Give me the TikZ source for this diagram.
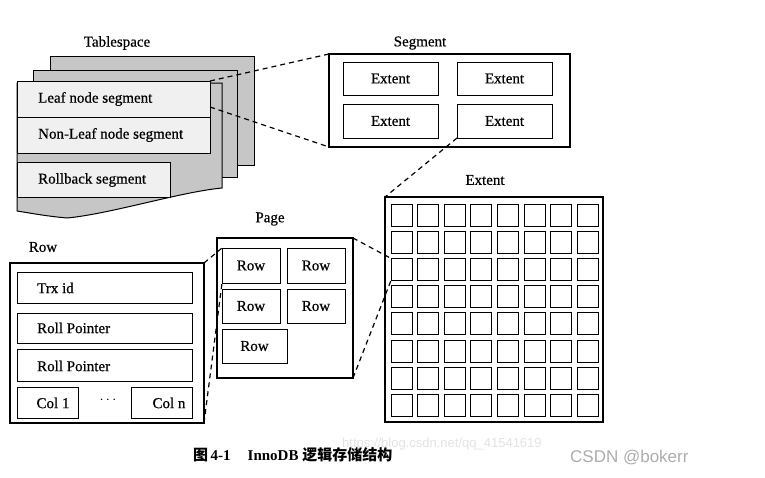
\documentclass[tikz,border=0pt]{standalone}
\usepackage{fontspec}
\setmainfont{Liberation Serif}
\newfontfamily\diag[FakeBold=0.6]{Liberation Serif}
\newfontfamily\cjk{Noto Sans CJK SC}
\newfontfamily\wmsans{Liberation Sans}
\begin{document}
\begin{tikzpicture}[x=1pt,y=-1pt,
  lbl/.style={font=\diag\fontsize{15}{18}\selectfont, inner sep=0pt},
  outerbox/.style={draw, line width=1.5pt, fill=white, inner sep=0pt, outer sep=0pt, anchor=north west},
  innerbox/.style={draw, line width=0.9pt, fill=white, inner sep=0pt, outer sep=0pt, anchor=north west, font=\diag\fontsize{15}{18}\selectfont},
  sheet/.style={draw, line width=1pt, fill=gray!45},
  segbox/.style={draw, line width=1pt, fill=gray!12, inner sep=0pt, outer sep=0pt, anchor=north west},
  dashline/.style={line width=1.2pt, dash pattern=on 5pt off 4pt},
  cellbox/.style={draw, line width=0.9pt, inner sep=0pt, outer sep=0pt, anchor=north west, minimum width=21pt, minimum height=22pt}
]
\useasboundingbox (0,0) rectangle (765,477);

% ---------- Tablespace ----------
\node[lbl] (tslabel) at (117,43) {Tablespace};
\node[sheet, inner sep=0pt, outer sep=0pt, anchor=north west, minimum width=204pt, minimum height=109pt] (ts3) at (50,56) {};
\node[sheet, inner sep=0pt, outer sep=0pt, anchor=north west, minimum width=204pt, minimum height=107pt] (ts2) at (33,70) {};
\draw[sheet] (17,83) -- (222,83) -- (222,188)
  .. controls (180,192) and (110,214) .. (67,218)
  .. controls (45,216) and (30,213) .. (17,211) -- cycle;
\node[segbox, minimum width=193pt, minimum height=36pt] (leaf) at (17,81) {};
\node[lbl, anchor=west] at (38,99) {Leaf node segment};
\node[segbox, minimum width=193pt, minimum height=36pt] (nonleaf) at (17,117) {};
\node[lbl, anchor=west] at (38,135) {Non-Leaf node segment};
\node[segbox, minimum width=153pt, minimum height=35pt] (rollback) at (17,162) {};
\node[lbl, anchor=west] at (38,180) {Rollback segment};
\coordinate (leafmid) at (210,107);

% ---------- Segment ----------
\node[lbl] (seglabel) at (420,43) {Segment};
\node[outerbox, minimum width=241pt, minimum height=93pt] (seg) at (329,54) {};
\node[innerbox, minimum width=95pt, minimum height=33pt] (e1) at (343,62) {Extent};
\node[innerbox, minimum width=95pt, minimum height=33pt] (e2) at (457,62) {Extent};
\node[innerbox, minimum width=95pt, minimum height=34pt] (e3) at (343,104) {Extent};
\node[innerbox, minimum width=95pt, minimum height=34pt] (e4) at (457,104) {Extent};

% ---------- Extent ----------
\node[lbl] (extlabel) at (485,180) {Extent};
\node[outerbox, minimum width=218pt, minimum height=225pt] (ext) at (385,197) {};
\foreach \i in {1,...,8} {
  \foreach \j in {1,...,8} {
    \node[cellbox] (c-\i-\j) at ({391+(\i-1)*26.6},{204+(\j-1)*27.2}) {};
  }
}

% ---------- Page ----------
\node[lbl] (pagelabel) at (270,219) {Page};
\node[outerbox, minimum width=136pt, minimum height=140pt] (page) at (217,238) {};
\node[innerbox, minimum width=58pt, minimum height=35pt] (r1) at (222,248) {Row};
\node[innerbox, minimum width=58pt, minimum height=35pt] (r2) at (287,248) {Row};
\node[innerbox, minimum width=58pt, minimum height=34pt] (r3) at (222,289) {Row};
\node[innerbox, minimum width=58pt, minimum height=34pt] (r4) at (287,289) {Row};
\node[innerbox, minimum width=65pt, minimum height=34pt] (r5) at (222,329) {Row};

% ---------- Row ----------
\node[lbl] (rowlabel) at (43,247) {Row};
\node[outerbox, minimum width=194pt, minimum height=160pt] (rowbox) at (10,263) {};
\node[innerbox, minimum width=175pt, minimum height=31pt] (trx) at (17,272) {};
\node[lbl, anchor=west] at (37,288) {Trx id};
\node[innerbox, minimum width=175pt, minimum height=30pt] (rp1) at (17,313) {};
\node[lbl, anchor=west] at (37,328) {Roll Pointer};
\node[innerbox, minimum width=175pt, minimum height=32pt] (rp2) at (17,349) {};
\node[lbl, anchor=west] at (37,366) {Roll Pointer};
\node[innerbox, minimum width=61pt, minimum height=31pt] (col1) at (17,387) {};
\node[lbl] at (53,403) {Col 1};
\node[innerbox, minimum width=61pt, minimum height=31pt] (coln) at (131,387) {};
\node[lbl] at (169,403) {Col n};
\node[lbl] (dots) at (108,400) {$\cdots$};

% ---------- connectors ----------
\draw[dashline] (leaf.north east) -- (seg.north west);
\draw[dashline] (leafmid) -- (seg.south west);
\draw[dashline] (e4.south west) -- (ext.north west);
\draw[dashline] (page.north east) -- (c-1-3.north west);
\draw[dashline] (page.south east) -- (c-1-3.south west);
\draw[dashline] (rowbox.north east) -- (r1.north west);
\draw[dashline] (rowbox.south east) -- (r1.south west);

% ---------- caption ----------
\node[anchor=west, inner sep=0pt, font=\fontsize{15}{18}\selectfont\bfseries] (cap) at (193,455)
  {{\cjk 图}\,4-1\hspace{17pt}InnoDB {\cjk 逻辑存储结构}};
\node[anchor=west, inner sep=0pt, text=gray!22, font=\wmsans\fontsize{13}{15}\selectfont] (wm) at (342,444) {https://blog.csdn.net/qq\_41541619};
\node[anchor=west, inner sep=0pt, text=gray!65, font=\wmsans\fontsize{17}{20}\selectfont] (csdn) at (570,458) {CSDN @bokerr};
\end{tikzpicture}
\end{document}
